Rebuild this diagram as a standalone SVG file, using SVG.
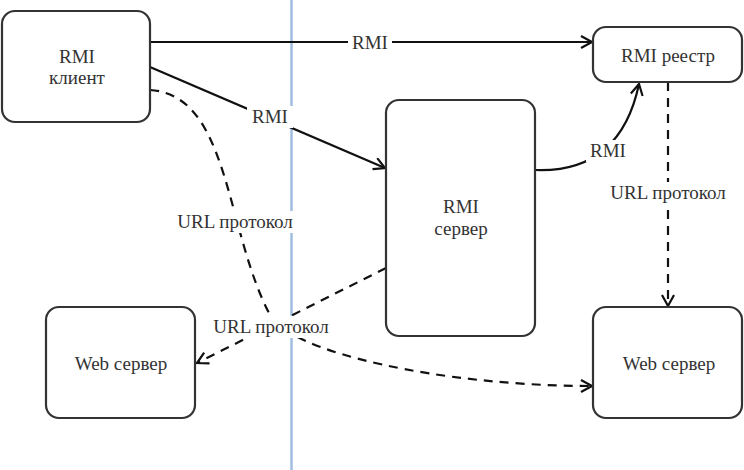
<svg xmlns="http://www.w3.org/2000/svg" width="744" height="470" viewBox="0 0 744 470">
<defs>
<marker id="arr" markerUnits="userSpaceOnUse" markerWidth="16" markerHeight="16" refX="12" refY="7" orient="auto">
<path d="M1,1 L12,7 L1,13" fill="none" stroke="#111" stroke-width="2.2" stroke-linejoin="miter"/>
</marker>
<style>
.node{fill:#fff;stroke:#333;stroke-width:2.2}
.t{font-family:"Liberation Serif","Times New Roman",serif;font-size:19px;fill:#333;text-anchor:middle}
.e{fill:none;stroke:#111;stroke-width:2.2}
.d{fill:none;stroke:#111;stroke-width:2.2;stroke-dasharray:9 7}
.lb{fill:#fff}
</style>
</defs>
<rect width="744" height="470" fill="#fff"/>
<line x1="291.5" y1="0" x2="291.5" y2="470" stroke="#9fbde0" stroke-width="2.5"/>
<g id="connectors">
<line class="e" x1="150" y1="42" x2="592" y2="42" marker-end="url(#arr)"/>
<line class="e" x1="150" y1="67" x2="385" y2="168" marker-end="url(#arr)"/>
<path class="e" d="M535,170 C585,172 625,150 639,84" marker-end="url(#arr)"/>
<line class="d" x1="668" y1="82" x2="668" y2="306" marker-end="url(#arr)"/>
<path class="d" d="M150,90 C230,95 225,230 270,315 C290,352 440,386 592,386" marker-end="url(#arr)"/>
<line class="d" x1="386" y1="268" x2="197" y2="363" marker-end="url(#arr)"/>
<g id="labels">
<rect class="lb" x="348" y="32" width="44" height="22"/>
<text class="t" x="370" y="49">RMI</text>
<rect class="lb" x="247" y="106" width="46" height="22"/>
<text class="t" x="270" y="123">RMI</text>
<rect class="lb" x="586" y="140" width="44" height="22"/>
<text class="t" x="608" y="157">RMI</text>
<rect class="lb" x="605" y="182" width="126" height="22"/>
<text class="t" x="668" y="199">URL протокол</text>
<rect class="lb" x="170" y="211" width="130" height="22"/>
<text class="t" x="235" y="228">URL протокол</text>
<rect class="lb" x="205" y="316" width="132" height="22"/>
<text class="t" x="271" y="333">URL протокол</text>
</g>
</g>
<g id="rmi-client">
<rect class="node" x="2" y="11" width="148" height="111" rx="13"/>
<text class="t" x="77" y="63">RMI</text>
<text class="t" x="77" y="84">клиент</text>
</g>
<g id="rmi-registry">
<rect class="node" x="593" y="27" width="149" height="55" rx="13"/>
<text class="t" x="668" y="62">RMI реестр</text>
</g>
<g id="rmi-server">
<rect class="node" x="386" y="100" width="149" height="236" rx="13"/>
<text class="t" x="461" y="213">RMI</text>
<text class="t" x="461" y="235">сервер</text>
</g>
<g id="web-server-left">
<rect class="node" x="46" y="307" width="149" height="111" rx="13"/>
<text class="t" x="121" y="370">Web сервер</text>
</g>
<g id="web-server-right">
<rect class="node" x="593" y="307" width="149" height="111" rx="13"/>
<text class="t" x="669" y="370">Web сервер</text>
</g>
</svg>
